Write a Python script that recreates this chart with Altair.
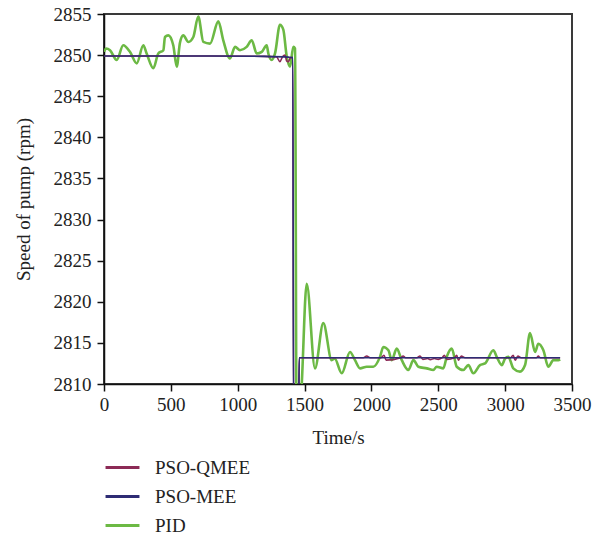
import altair as alt
import pandas as pd

# ---- data ----
series_names = ["PSO-QMEE", "PSO-MEE", "PID"]
series_colors = ["#8c2a56", "#2e2c74", "#6cb944"]

t_pid = [0, 15, 45, 95, 144, 194, 245, 294, 319, 369, 406, 444, 456, 481, 518, 544, 568, 593,
         631, 668, 705, 743, 793, 855, 892, 942, 980, 1017, 1067, 1105, 1142, 1180, 1217, 1229,
         1254, 1279, 1316, 1341, 1366, 1391, 1416, 1429, 1440, 1466, 1479, 1516, 1578, 1640,
         1703, 1725, 1778, 1840, 1877, 1915, 1965, 2014, 2064, 2089, 2127, 2152, 2189, 2227,
         2276, 2314, 2351, 2414, 2463, 2488, 2538, 2563, 2601, 2638, 2687, 2725, 2762, 2812,
         2850, 2912, 2937, 2975, 3000, 3024, 3061, 3111, 3149, 3186, 3224, 3248, 3286, 3323,
         3361, 3398, 3411]
v_pid = [2850.4, 2850.8, 2850.6, 2849.4, 2851.2, 2850.4, 2849.0, 2851.2, 2850.2, 2848.4,
         2850.2, 2850.6, 2852.2, 2852.4, 2851.2, 2848.6, 2851.5, 2852.4, 2851.6, 2852.2, 2854.7,
         2851.6, 2851.4, 2854.1, 2851.8, 2849.6, 2851.0, 2850.6, 2851.0, 2851.8, 2850.2, 2850.4,
         2851.2, 2850.2, 2849.4, 2850.2, 2853.7, 2853.1, 2849.9, 2848.6, 2851.0, 2850.8, 2806.0,
         2806.0, 2810.0, 2822.2, 2811.9, 2817.4, 2812.9, 2813.1, 2811.3, 2813.9, 2812.9, 2811.9,
         2812.1, 2812.1, 2813.3, 2814.5, 2814.1, 2812.9, 2814.3, 2812.9, 2811.7, 2812.9, 2812.1,
         2811.9, 2811.7, 2812.1, 2811.9, 2813.3, 2814.3, 2812.1, 2811.7, 2812.3, 2811.3, 2812.3,
         2812.5, 2814.1, 2813.3, 2812.3, 2813.1, 2813.3, 2811.9, 2811.5, 2812.3, 2816.2, 2813.9,
         2814.9, 2814.1, 2812.1, 2812.9, 2812.9, 2813.0]

t_mee = [0, 400, 800, 1200, 1380, 1412, 1418, 1455, 1460, 2000, 2500, 3000, 3411]
v_mee = [2849.9, 2849.9, 2849.9, 2849.85, 2849.75, 2849.7, 2805.0, 2805.0, 2813.2, 2813.2,
         2813.2, 2813.2, 2813.2]

t_qmee = [0, 400, 800, 1200, 1290, 1316, 1335, 1354, 1366, 1379, 1395, 1412, 1418, 1455,
          1460, 1800, 1940, 1965, 1990, 2070, 2094, 2110, 2220, 2237, 2255, 2340, 2363, 2385,
          2420, 2440, 2470, 2500, 2530, 2545, 2565, 2620, 2638, 2650, 2672, 2700, 3040, 3060,
          3075, 3095, 3120, 3235, 3248, 3262, 3411]
v_qmee = [2849.9, 2849.9, 2849.9, 2849.85, 2849.8, 2849.2, 2849.8, 2850.0, 2849.3, 2849.2,
          2849.7, 2849.7, 2805.0, 2805.0, 2813.2, 2813.2, 2813.2, 2813.4, 2813.2, 2813.2, 2813.5,
          2812.9, 2813.2, 2813.4, 2813.2, 2813.2, 2813.4, 2813.0, 2813.1, 2812.95, 2813.1, 2813.0,
          2813.2, 2813.5, 2813.0, 2813.2, 2813.5, 2812.9, 2813.4, 2813.2, 2813.2, 2813.5, 2812.9,
          2813.4, 2813.2, 2813.2, 2813.4, 2813.2, 2813.2]

x_ticks = [0, 500, 1000, 1500, 2000, 2500, 3000, 3500]
y_ticks = [2810, 2815, 2820, 2825, 2830, 2835, 2840, 2845, 2850, 2855]

# ---- build table ----
frames = []
for name, t, v in [("PSO-QMEE", t_qmee, v_qmee), ("PSO-MEE", t_mee, v_mee), ("PID", t_pid, v_pid)]:
    frames.append(pd.DataFrame({"t": t, "v": v, "s": name}))
df = pd.concat(frames, ignore_index=True)

FONT = "Liberation Serif"

color = alt.Color(
    "s:N",
    scale=alt.Scale(domain=series_names, range=series_colors),
    legend=alt.Legend(
        title=None, orient="none", legendX=0, legendY=435, direction="vertical",
        symbolType="stroke", symbolSize=1150, symbolStrokeWidth=3,
        labelFont=FONT, labelFontSize=19, labelColor="#222", labelOffset=14,
        rowPadding=-8,
    ),
)

x = alt.X("t:Q", scale=alt.Scale(domain=[0, 3500], nice=False),
          axis=alt.Axis(values=x_ticks, format="d", title="Time/s", titlePadding=14, labelPadding=4,
                        ticks=True, labelFlush=False, labelOverlap=False))
y = alt.Y("v:Q", scale=alt.Scale(domain=[2810, 2855], nice=False, zero=False),
          axis=alt.Axis(values=y_ticks, format="d", title="Speed of pump (rpm)", titlePadding=20,
                        labelPadding=6, ticks=True, labelFlush=False, labelOverlap=False))

def layer(name, width):
    return alt.Chart(df).transform_filter(alt.datum.s == name).mark_line(
        clip=True, strokeWidth=width, interpolate="monotone"
    ).encode(x=x, y=y, color=color, order="t:Q")

chart = alt.layer(
    layer("PID", 2.6),
    layer("PSO-QMEE", 1.6),
    layer("PSO-MEE", 1.6),
).properties(
    width=468, height=370,
    background="white",
    autosize=alt.AutoSizeParams(type="none"),
    padding={"left": 96, "top": 6, "right": 36, "bottom": 150},
).configure_view(
    stroke="#3a3a3a", strokeWidth=2
).configure_axis(
    grid=False, domainColor="#111", domainWidth=1.5, tickColor="#111", tickWidth=1.5,
    tickSize=7, labelFont=FONT, labelFontSize=19, labelColor="#222",
    titleFont=FONT, titleFontSize=19, titleFontWeight="normal", titleColor="#222",
)

chart.save("out.html", embed_options={"renderer": "svg", "actions": False})
